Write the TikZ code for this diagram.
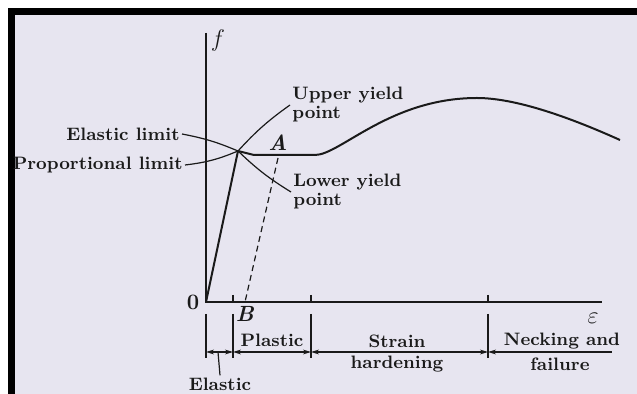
\documentclass[tikz,border=0pt]{standalone}
\usepackage{tikz}
\usetikzlibrary{arrows.meta,positioning}
\definecolor{ink}{HTML}{1A1A1A}
\definecolor{paper}{HTML}{E7E5F0}
\tikzset{
  lbl/.style={font=\fontsize{9}{9.5}\selectfont\bfseries,text=ink,inner sep=1pt,align=left},
  axis/.style={line width=1pt,color=ink},
  curve/.style={line width=1pt,color=ink},
  lead/.style={line width=0.6pt,color=ink},
  dimarr/.style={{Stealth[length=4pt,width=2.4pt]}-{Stealth[length=4pt,width=2.4pt]},line width=0.6pt,color=ink},
  onearr/.style={{Stealth[length=4pt,width=2.4pt]}-,line width=0.6pt,color=ink},
}

\begin{document}
\begin{tikzpicture}[x=0.5pt,y=-0.5pt]
  \useasboundingbox (0,0) rectangle (637,394);
  \fill[white] (0,0) rectangle (637,394);
  \fill[black] (8,8) rectangle (637,15);
  \fill[black] (8,8) rectangle (15,394);
  \fill[paper] (15,15) rectangle (637,394);

  % axes
  \coordinate (O) at (206,302);
  \coordinate (ftop) at (206,33);
  \coordinate (eend) at (602,302);
  \draw[axis] (ftop) -- (O) -- (eend);
  \node[lbl,font=\fontsize{12}{12}\selectfont] (f) at (218,41) {$f$};
  \node[lbl,font=\fontsize{12}{12}\selectfont] (eps) at (593,318) {$\varepsilon$};
  \node[lbl,font=\fontsize{11}{11}\selectfont\bfseries] (zero) at (193,302) {0};

  % stress-strain curve
  \coordinate (Y) at (238,151);
  \draw[curve] (O) -- (Y);
  \draw[curve] (Y) -- (254,155) -- (315,155)
    .. controls (340,155) and (390,98) .. (477,98)
    .. controls (520,98) and (580,122) .. (620,140);

  % unloading line
  \coordinate (Atop) at (278,158);
  \coordinate (Bbot) at (245,302);
  \draw[lead,dash pattern=on 3pt off 2pt] (Atop) -- (Bbot);
  \node[lbl,font=\fontsize{11}{11}\selectfont\bfseries] (A) at (278,143) {\textit{A}};
  \node[lbl,font=\fontsize{11}{11}\selectfont\bfseries] (B) at (245,314) {\textit{B}};

  % labels and leaders
  \node[lbl,anchor=east] (el) at (182,134) {Elastic limit};
  \node[lbl,anchor=east] (pl) at (185,165) {Proportional limit};
  \node[lbl,anchor=west] (uy) at (290,105) {Upper yield\\point};
  \node[lbl,anchor=west] (ly) at (291,192) {Lower yield\\point};
  \draw[lead] (el.east) to[bend left=6] (Y);
  \draw[lead] (pl.east) to[bend right=8] (Y);
  \draw[lead] (Y) to[bend left=6] (uy.west);
  \draw[lead] (Y) to[bend right=6] (ly.west);

  % ticks on strain axis
  \foreach \x in {233,311,488}
    \draw[lead] (\x,295) -- (\x,302);

  % ranges
  \foreach \x/\n in {206/r0,233/r1,311/r2,488/r3} {
    \coordinate (\n t) at (\x,314);
    \coordinate (\n b) at (\x,358);
    \coordinate (\n) at (\x,352);
    \draw[lead] (\n t) -- (\n b);
  }
  \coordinate (rend) at (612,352);
  \draw[dimarr] (r0) -- (r1);
  \draw[dimarr] (r1) -- (r2);
  \draw[dimarr] (r2) -- (r3);
  \draw[onearr] (r3) -- (rend);

  \coordinate (etop) at (218,352);
  \node[lbl] (elastic) at (220,384) {Elastic};
  \draw[lead] (etop) -- (elastic.north);
  \node[lbl] (plastic) at (272,340) {Plastic};
  \node[lbl] (strain) at (397,341) {Strain};
  \node[lbl] (hard) at (397,364) {hardening};
  \node[lbl] (neck) at (562,341) {Necking and};
  \node[lbl] (fail) at (560,364) {failure};
\end{tikzpicture}
\end{document}
